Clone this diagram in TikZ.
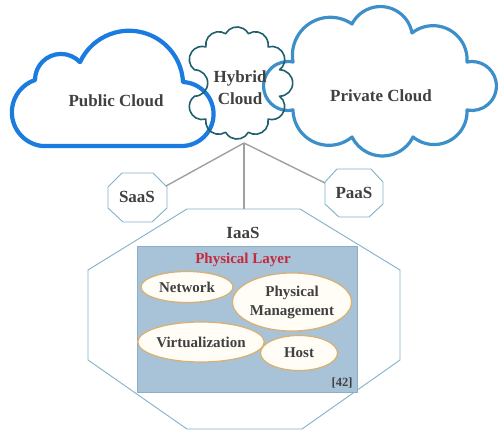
\documentclass[tikz,border=0pt]{standalone}
\usepackage{fontspec}
\setmainfont{Liberation Serif}
\usetikzlibrary{svg.path,shapes.geometric}
\definecolor{pubblue}{HTML}{1A7BE0}
\definecolor{hybteal}{HTML}{1F5F6E}
\definecolor{privblue}{HTML}{3C8FC8}
\definecolor{octline}{HTML}{80B2C8}
\definecolor{connGray}{HTML}{A0A0A0}
\definecolor{rectfill}{HTML}{A8C2D8}
\definecolor{rectline}{HTML}{8CAEC8}
\definecolor{ellline}{HTML}{DAB070}
\definecolor{ellfill}{HTML}{FFFDF6}
\definecolor{txtgray}{HTML}{404040}
\definecolor{layerred}{HTML}{C8283C}
\tikzset{
  lbl/.style={font=\bfseries\fontsize{17}{22}\selectfont, text=txtgray, align=center, inner sep=0pt},
  octo/.style={draw=octline, line width=0.9pt, line join=miter},
  conn/.style={draw=connGray, line width=1.4pt},
  blob/.style={ellipse, draw=ellline, fill=ellfill, line width=1.2pt, inner sep=0pt, font=\bfseries\fontsize{15}{18}\selectfont, text=txtgray, align=center},
}
\begin{document}
\begin{tikzpicture}[x=1pt,y=-1pt]
\useasboundingbox (0,0) rectangle (503,436);
\fill[white] (0,0) rectangle (503,436);
% clouds (pixel coordinates, y downward)
\begin{scope}[yscale=-1]
\draw[pubblue, line width=4.2pt, line join=round]
  svg{M 182 146 L 42 146 A 34 34 0 0 1 35 80 A 26 26 0 0 1 80 62 A 54 54 0 0 1 183 82 A 32 32 0 0 1 182 146 Z};
\draw[privblue, line width=3.2pt, line join=round]
  svg{M 293 110 A 24.5 24.5 0 1 1 293 62 A 38 38 0 0 1 352 24 A 32 32 0 0 1 412 33 A 34 34 0 0 1 467 62 A 24.5 24.5 0 1 1 467 110 A 33 33 0 0 1 413 137 A 34 34 0 0 1 352 137 A 36 36 0 0 1 293 110 Z};
\draw[hybteal, line width=1.6pt, line join=round]
  svg{M 279.5 96.2 A 13 13 0 0 1 268.1 119.1 A 13 13 0 0 1 248.4 132.3 A 13 13 0 0 1 225.6 132.3 A 13 13 0 0 1 205.9 119.1 A 13 13 0 0 1 194.5 96.2 A 13 13 0 0 1 194.5 69.8 A 13 13 0 0 1 205.9 46.9 A 13 13 0 0 1 225.6 33.7 A 13 13 0 0 1 248.4 33.7 A 13 13 0 0 1 268.1 46.9 A 13 13 0 0 1 279.5 69.8 A 13 13 0 0 1 279.5 96.2 Z};
\end{scope}
\node[lbl] (pub) at (116,101) {Public Cloud};
\node[lbl] (hyb) at (240,88) {Hybrid\\Cloud};
\node[lbl] (priv) at (381,96) {Private Cloud};
\coordinate (hybbot) at (244,143);
% octagons
\draw[octo] (122,173) -- (153,173) -- (167,187) -- (167,208) -- (152,222) -- (123,222) -- (108,208) -- (108,187) -- cycle;
\draw[octo] (337,169) -- (371,169) -- (383,182) -- (383,204) -- (369,217) -- (339,217) -- (325,204) -- (325,182) -- cycle;
\draw[octo] (187,209) -- (300,209) -- (400,270) -- (400,360) -- (302,429) -- (187,429) -- (88,360) -- (88,270) -- cycle;
\coordinate (saasc) at (166,186);
\coordinate (paasc) at (325,183);
\coordinate (iaasc) at (244,209);
\node[lbl] (saas) at (137,197) {SaaS};
\node[lbl] (paas) at (354,193) {PaaS};
\node[lbl] (iaas) at (243,233) {IaaS};
% connectors
\draw[conn] (hybbot) -- (saasc);
\draw[conn] (hybbot) -- (paasc);
\draw[conn] (hybbot) -- (iaasc);
% physical layer
\draw[draw=rectline, fill=rectfill, line width=0.8pt] (137,246) rectangle (357,392);
\node[font=\bfseries\fontsize{15}{18}\selectfont, text=layerred, inner sep=0pt] (phl) at (243,260) {Physical Layer};
\node[blob, minimum width=92pt, minimum height=31pt] (net) at (187,287) {Network};
\node[blob, minimum width=119pt, minimum height=58pt] (pm) at (292,302) {Physical\\[1pt]Management};
\node[blob, minimum width=119pt, minimum height=40pt] (virt) at (201,342) {Virtualization};
\node[blob, minimum width=77pt, minimum height=35pt] (host) at (299,353) {Host};
\node[font=\bfseries\fontsize{12.5}{14}\selectfont, text=txtgray, inner sep=0pt] (ref) at (342,383) {[42]};
\end{tikzpicture}
\end{document}
